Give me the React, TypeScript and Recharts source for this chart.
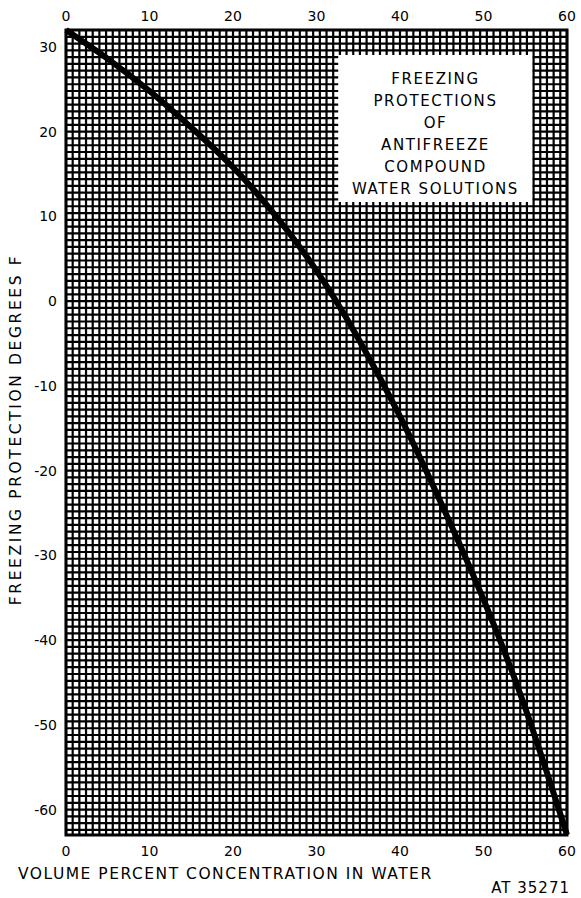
import React from 'react';
import {
  LineChart,
  Line,
  XAxis,
  YAxis,
  ReferenceArea,
  ReferenceLine,
} from 'recharts';

// volume percent concentration vs freezing protection (deg F)
const CONCENTRATION = [0, 5, 10, 15, 20, 25, 30, 35, 40, 45, 50, 55, 60];
const FREEZE_F = [32, 28.6, 24.8, 20.5, 15.8, 10.2, 3.6, -4.4, -13.6, -24, -35.2, -48, -63];

const X_TICKS = [0, 10, 20, 30, 40, 50, 60];
const Y_TICKS = [30, 20, 10, 0, -10, -20, -30, -40, -50, -60];

const TITLE_LINES = ['FREEZING', 'PROTECTIONS', 'OF', 'ANTIFREEZE', 'COMPOUND', 'WATER SOLUTIONS'];

const X_DOMAIN: [number, number] = [0, 60];
const Y_DOMAIN: [number, number] = [-63, 32];

// white title panel, in data units
const BOX_X: [number, number] = [32.6, 55.9];
const BOX_Y: [number, number] = [11.7, 29.05];

// graph paper rulings
const GRID_X = Array.from({ length: 76 }, (_, i) => +(i * 0.8).toFixed(2));
const GRID_Y = Array.from({ length: 119 }, (_, i) => +(32 - i * 0.8).toFixed(2));

const data = CONCENTRATION.map((c, i) => ({ pct: c, temp: FREEZE_F[i] }));

const FONT = '"DejaVu Sans", sans-serif';
const tickStyle = { fontSize: 14, fill: '#000', fontFamily: FONT };

// split rulings so they stop at the title panel
function gridSegments() {
  const segs: { key: string; seg: { x: number; y: number }[] }[] = [];
  GRID_X.forEach((x) => {
    const inBox = x > BOX_X[0] && x < BOX_X[1];
    if (!inBox) {
      segs.push({ key: `vx${x}`, seg: [{ x, y: Y_DOMAIN[0] }, { x, y: Y_DOMAIN[1] }] });
    } else {
      segs.push({ key: `vxa${x}`, seg: [{ x, y: Y_DOMAIN[0] }, { x, y: BOX_Y[0] }] });
      segs.push({ key: `vxb${x}`, seg: [{ x, y: BOX_Y[1] }, { x, y: Y_DOMAIN[1] }] });
    }
  });
  GRID_Y.forEach((y) => {
    const inBox = y > BOX_Y[0] && y < BOX_Y[1];
    if (!inBox) {
      segs.push({ key: `hy${y}`, seg: [{ x: X_DOMAIN[0], y }, { x: X_DOMAIN[1], y }] });
    } else {
      segs.push({ key: `hya${y}`, seg: [{ x: X_DOMAIN[0], y }, { x: BOX_X[0], y }] });
      segs.push({ key: `hyb${y}`, seg: [{ x: BOX_X[1], y }, { x: X_DOMAIN[1], y }] });
    }
  });
  return segs;
}

function TitleBox(props: any) {
  const { viewBox } = props;
  if (!viewBox) return null;
  const cx = viewBox.x + viewBox.width / 2;
  return (
    <g>
      {TITLE_LINES.map((t, i) => (
        <text
          key={t}
          x={cx}
          y={viewBox.y + 29 + i * 22}
          textAnchor="middle"
          fontSize={15}
          fontFamily={FONT}
          letterSpacing={1.6}
          fill="#000"
        >
          {t}
        </text>
      ))}
    </g>
  );
}

function BottomLabel(props: any) {
  const { viewBox } = props;
  if (!viewBox) return null;
  return (
    <g fontFamily={FONT} fill="#000">
      <text x={viewBox.x - 48} y={viewBox.y + 44} fontSize={15.5} textAnchor="start" letterSpacing={1.5}>
        VOLUME PERCENT CONCENTRATION IN WATER
      </text>
      <text x={viewBox.x + viewBox.width + 3} y={viewBox.y + 58} fontSize={15} textAnchor="end" letterSpacing={1}>
        AT 35271
      </text>
    </g>
  );
}

function LeftLabel(props: any) {
  const { viewBox } = props;
  if (!viewBox) return null;
  const cy = viewBox.y + viewBox.height / 2 - 3;
  return (
    <text
      x={16}
      y={cy}
      transform={`rotate(-90, 16, ${cy})`}
      textAnchor="middle"
      dominantBaseline="central"
      fontFamily={FONT}
      fontSize={15.5}
      letterSpacing={2.6}
      fill="#000"
    >
      FREEZING PROTECTION DEGREES F
    </text>
  );
}

export default function App() {
  const segs = gridSegments();
  return (
    <div style={{ position: 'absolute', left: 0, top: 0, background: '#fff' }}>
      <LineChart
        width={581}
        height={898}
        data={data}
        margin={{ top: 0, right: 14, bottom: 0, left: 0 }}
      >
        <XAxis
          xAxisId="top"
          orientation="top"
          dataKey="pct"
          type="number"
          domain={X_DOMAIN}
          ticks={X_TICKS}
          interval={0}
          height={30}
          tickLine={false}
          axisLine={false}
          tickSize={6}
          tickMargin={3}
          tick={tickStyle}
        />
        <XAxis
          xAxisId="bottom"
          orientation="bottom"
          dataKey="pct"
          type="number"
          domain={X_DOMAIN}
          ticks={X_TICKS}
          interval={0}
          height={63}
          tickLine={false}
          axisLine={false}
          tickSize={6}
          tickMargin={5}
          tick={tickStyle}
          label={<BottomLabel />}
        />
        <YAxis
          yAxisId="left"
          type="number"
          domain={Y_DOMAIN}
          ticks={Y_TICKS}
          interval={0}
          width={66}
          tickLine={false}
          axisLine={false}
          tickSize={6}
          tickMargin={3}
          tick={tickStyle}
          label={<LeftLabel />}
        />
        {segs.map((s) => (
          <ReferenceLine
            key={s.key}
            xAxisId="bottom"
            yAxisId="left"
            segment={s.seg}
            stroke="#000"
            strokeWidth={2.2}
          />
        ))}
        <ReferenceArea
          xAxisId="bottom"
          yAxisId="left"
          x1={BOX_X[0]}
          x2={BOX_X[1]}
          y1={BOX_Y[0]}
          y2={BOX_Y[1]}
          fill="#fff"
          fillOpacity={1}
          stroke="none"
          label={<TitleBox />}
        />
        <ReferenceArea
          xAxisId="bottom"
          yAxisId="left"
          x1={0}
          x2={60}
          y1={-63}
          y2={32}
          fill="none"
          stroke="#000"
          strokeWidth={3}
        />
        <Line
          xAxisId="bottom"
          yAxisId="left"
          dataKey="temp"
          type="natural"
          stroke="#000"
          strokeWidth={6}
          dot={false}
          isAnimationActive={false}
        />
      </LineChart>
    </div>
  );
}
